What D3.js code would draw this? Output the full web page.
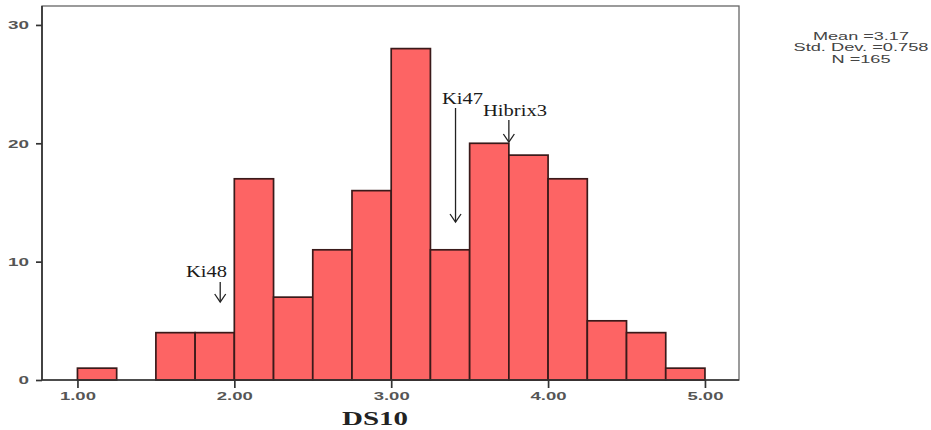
<!DOCTYPE html>
<html>
<head>
<meta charset="utf-8">
<script src="https://cdn.jsdelivr.net/npm/d3@7"></script>
<style>
  html, body { margin: 0; padding: 0; background: #fff; }
  svg { display: block; }
</style>
</head>
<body>
<svg id="chart" width="931" height="430"></svg>
<script>
// Histogram of DS10 — bin edges (width 0.25) and counts per bin
const binStarts = [1.00, 1.25, 1.50, 1.75, 2.00, 2.25, 2.50, 2.75, 3.00, 3.25, 3.50, 3.75, 4.00, 4.25, 4.50, 4.75];
const counts    = [1,    0,    4,    4,    17,   7,    11,   16,   28,   11,   20,   19,   17,   5,    4,    1];
const binWidth = 0.25;

const xTickValues = [1, 2, 3, 4, 5];
const yTickValues = [0, 10, 20, 30];

// Marked cultivars: label and DS10 position of the arrow
const markerNames  = ["Ki48", "Ki47", "Hibrix3"];
const markerValues = [1.91, 3.41, 3.75];

const statLines = ["Mean =3.17", "Std. Dev. =0.758", "N =165"];
const xTitle = "DS10";

const svg = d3.select("#chart");
const frame = { left: 42, right: 739, top: 6, bottom: 380 };

const x = d3.scaleLinear().domain([0.774, 5.217]).range([frame.left, frame.right]);
const y = d3.scaleLinear().domain([0, 31.6]).range([frame.bottom, frame.top]);

const sans = "Arial, 'Liberation Sans', sans-serif";
const serif = "'Liberation Serif', 'Times New Roman', serif";

// widen a text to a fixed length (the output is drawn wide)
function stretch(sel, len) {
  sel.attr("textLength", len).attr("lengthAdjust", "spacingAndGlyphs");
}

// outer frame (top and right)
svg.append("rect")
  .attr("x", frame.left).attr("y", frame.top)
  .attr("width", frame.right - frame.left).attr("height", frame.bottom - frame.top)
  .attr("fill", "none").attr("stroke", "#666").attr("stroke-width", 1.3);

// bars
const bins = binStarts.map((b, i) => ({ x0: b, x1: b + binWidth, n: counts[i] }));
svg.append("g").selectAll("rect")
  .data(bins.filter(d => d.n > 0))
  .join("rect")
  .attr("x", d => x(d.x0))
  .attr("y", d => y(d.n))
  .attr("width", d => x(d.x1) - x(d.x0))
  .attr("height", d => y(0) - y(d.n))
  .attr("fill", "#fd6464")
  .attr("stroke", "#3a1a1a")
  .attr("stroke-width", 1.7);

// axes
const fmt = d3.format(".2f");
const xAxis = svg.append("g")
  .attr("transform", `translate(0,${frame.bottom})`)
  .call(d3.axisBottom(x).tickValues(xTickValues).tickFormat(fmt).tickSize(8).tickSizeOuter(0));
const yAxis = svg.append("g")
  .attr("transform", `translate(${frame.left},0)`)
  .call(d3.axisLeft(y).tickValues(yTickValues).tickSize(6).tickSizeOuter(0));

[xAxis, yAxis].forEach(g => {
  g.select(".domain").remove();
  g.selectAll(".tick line").attr("stroke", "#333").attr("stroke-width", 1.7);
  g.selectAll(".tick text")
    .attr("fill", "#555")
    .style("font-family", sans)
    .style("font-size", "11px")
    .style("font-weight", "bold");
});
xAxis.selectAll(".tick text").attr("dy", null).attr("y", 19.5)
  .each(function () { stretch(d3.select(this), 36); });
yAxis.selectAll(".tick text").attr("x", -13).attr("dy", "0.36em")
  .each(function () { stretch(d3.select(this), 10.5 * this.textContent.length); });

// axis lines
svg.append("line")
  .attr("x1", frame.left).attr("x2", frame.right)
  .attr("y1", frame.bottom).attr("y2", frame.bottom)
  .attr("stroke", "#333").attr("stroke-width", 1.7);
svg.append("line")
  .attr("x1", frame.left).attr("x2", frame.left)
  .attr("y1", frame.top).attr("y2", frame.bottom)
  .attr("stroke", "#333").attr("stroke-width", 1.7);

// x title
svg.append("text")
  .attr("x", 375).attr("y", 425)
  .attr("text-anchor", "middle")
  .style("font-family", serif)
  .style("font-size", "18px")
  .style("font-weight", "bold")
  .attr("fill", "#222")
  .text(xTitle)
  .call(stretch, 66);

// marker arrows with labels
const markers = [
  { name: markerNames[0], v: markerValues[0], labelX: 206.5, labelY: 277, len: 41, y1: 282, y2: 302 },
  { name: markerNames[1], v: markerValues[1], labelX: 462.5, labelY: 104, len: 41, y1: 108, y2: 222 },
  { name: markerNames[2], v: markerValues[2], labelX: 515, labelY: 116, len: 64, y1: 120, y2: 142 }
];
const mg = svg.append("g");
markers.forEach(m => {
  const px = x(m.v);
  mg.append("line")
    .attr("x1", px).attr("x2", px).attr("y1", m.y1).attr("y2", m.y2)
    .attr("stroke", "#222").attr("stroke-width", 1.3);
  mg.append("path")
    .attr("d", `M${px - 5.5},${m.y2 - 8} L${px},${m.y2} L${px + 5.5},${m.y2 - 8}`)
    .attr("fill", "none").attr("stroke", "#222").attr("stroke-width", 1.3);
  mg.append("text")
    .attr("x", m.labelX).attr("y", m.labelY)
    .attr("text-anchor", "middle")
    .style("font-family", serif)
    .style("font-size", "16px")
    .attr("fill", "#1a1a1a")
    .text(m.name)
    .call(stretch, m.len);
});

// summary statistics
const statWidths = [96, 135, 59];
svg.append("g").selectAll("text")
  .data(statLines)
  .join("text")
  .attr("x", 861)
  .attr("y", (d, i) => 40 + i * 11.3)
  .attr("text-anchor", "middle")
  .style("font-family", sans)
  .style("font-size", "10.5px")
  .attr("fill", "#444")
  .text(d => d)
  .each(function (d, i) { stretch(d3.select(this), statWidths[i]); });
</script>
</body>
</html>
